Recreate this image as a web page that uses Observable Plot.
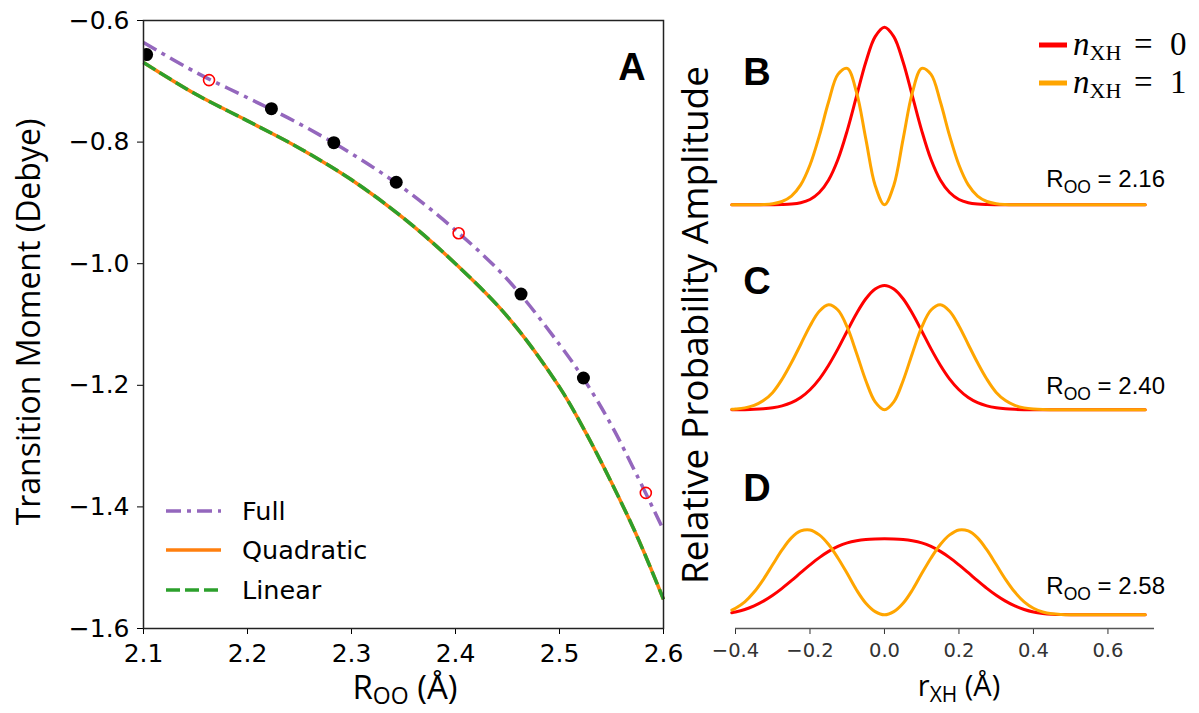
<!DOCTYPE html>
<html><head><meta charset="utf-8">
<script src="https://cdn.jsdelivr.net/npm/d3@7"></script>
<script src="https://cdn.jsdelivr.net/npm/@observablehq/plot@0.6"></script>
<style>
body{margin:0;background:#fff;}
#wrap{position:relative;width:1199px;height:713px;overflow:hidden;background:#fff;}
#left{position:absolute;left:0;top:0;width:700px;height:713px;}
#right{position:absolute;left:680px;top:0;width:519px;height:713px;}
#overlay{position:absolute;left:0;top:0;pointer-events:none;}
</style></head>
<body>
<div id="wrap"><div id="left"></div><div id="right"></div>
<svg id="overlay" width="1199" height="713"></svg></div>
<script>
// ---------- Panel A data ----------
const rooGrid = [2.10, 2.15, 2.20, 2.25, 2.30, 2.35, 2.40, 2.45, 2.50, 2.525, 2.55, 2.575, 2.60];
const fullTM  = [-0.636, -0.685, -0.727, -0.770, -0.819, -0.876, -0.945, -1.026, -1.133, -1.194, -1.266, -1.350, -1.438];
const quadTM  = [-0.669, -0.721, -0.765, -0.810, -0.862, -0.925, -1.000, -1.087, -1.203, -1.277, -1.360, -1.450, -1.552];
const linTM   = [-0.669, -0.721, -0.765, -0.810, -0.862, -0.925, -1.000, -1.087, -1.203, -1.277, -1.360, -1.450, -1.552];
const computedR  = [2.103, 2.223, 2.283, 2.343, 2.463, 2.523];
const computedTM = [-0.656, -0.745, -0.801, -0.866, -1.050, -1.188];
const predictedR  = [2.163, 2.403, 2.583];
const predictedTM = [-0.698, -0.950, -1.377];
const xTicksA = [2.1, 2.2, 2.3, 2.4, 2.5, 2.6];
const yTicksA = [-1.6, -1.4, -1.2, -1.0, -0.8, -0.6];
const seriesNamesA = ["Full", "Quadratic", "Linear"];

// ---------- Panels B-D data ----------
const panels = ["B", "C", "D"];
const panelROO = ["2.16", "2.40", "2.58"];
const rXH = [-0.41,-0.4,-0.375,-0.35,-0.325,-0.3,-0.275,-0.25,-0.225,-0.2,-0.175,-0.15,-0.125,-0.1,-0.075,-0.05,-0.025,0,
             0.025,0.05,0.075,0.1,0.125,0.15,0.175,0.2,0.225,0.25,0.275,0.3,0.325,0.35,0.375,0.4,0.425,0.45,0.475,0.5,0.7];
const groundB  = [0,0,0,0,0.0001,0.0004,0.0014,0.0043,0.012,0.030,0.069,0.140,0.255,0.418,0.612,0.804,0.947,1.0,
                  0.947,0.804,0.612,0.418,0.255,0.140,0.069,0.030,0.012,0.0043,0.0014,0.0004,0.0001,0,0,0,0,0,0,0,0];
const excitedB = [0,0,0.0001,0.0004,0.0019,0.0064,0.0188,0.049,0.112,0.224,0.388,0.580,0.734,0.768,0.633,0.370,0.109,0,
                  0.109,0.370,0.633,0.768,0.734,0.580,0.388,0.224,0.112,0.049,0.0188,0.0064,0.0019,0.0004,0.0001,0,0,0,0,0,0];
const groundC  = [0.0003,0.0005,0.0011,0.0026,0.0056,0.0115,0.022,0.040,0.069,0.113,0.173,0.251,0.343,0.444,0.542,0.625,0.680,0.700,
                  0.680,0.625,0.542,0.444,0.343,0.251,0.173,0.113,0.069,0.040,0.022,0.0115,0.0056,0.0026,0.0011,0.0005,0,0,0,0,0];
const excitedC = [0.003,0.0045,0.011,0.025,0.052,0.098,0.172,0.265,0.368,0.472,0.555,0.591,0.562,0.465,0.319,0.164,0.0445,0,
                  0.0445,0.164,0.319,0.465,0.562,0.591,0.555,0.472,0.368,0.265,0.172,0.098,0.052,0.025,0.011,0.0045,0.0015,0.0005,0,0,0];
const groundD  = [0.012,0.016,0.030,0.050,0.077,0.110,0.149,0.192,0.237,0.281,0.322,0.357,0.385,0.405,0.417,0.424,0.427,0.428,
                  0.427,0.424,0.417,0.405,0.385,0.357,0.322,0.281,0.237,0.192,0.149,0.110,0.077,0.050,0.030,0.016,0.008,0.0035,0.0015,0.0005,0];
const excitedD = [0.027,0.037,0.073,0.128,0.200,0.283,0.365,0.433,0.472,0.478,0.450,0.396,0.320,0.232,0.140,0.065,0.018,0,
                  0.018,0.065,0.140,0.232,0.320,0.396,0.450,0.478,0.472,0.433,0.365,0.283,0.200,0.128,0.073,0.037,0.016,0.006,0.002,0.0005,0];
const xTicksR = [-0.4, -0.2, 0.0, 0.2, 0.4, 0.6];

// colors
const cFull = "#9467bd", cQuad = "#ff7f0e", cLin = "#2ca02c";
const cN0 = "#ff0000", cN1 = "#ffa500";

// ---------- Build tables ----------
const toRows = (xs, ys) => xs.map((x, i) => ({x, y: ys[i]}));
const fullRows = toRows(rooGrid, fullTM);
const quadRows = toRows(rooGrid, quadTM);
const linRows = toRows(rooGrid, linTM);
const compRows = toRows(computedR, computedTM);
const predRows = toRows(predictedR, predictedTM);

const ground = {B: groundB, C: groundC, D: groundD};
const excited = {B: excitedB, C: excitedC, D: excitedD};
const waveRows = [];
for (const p of panels) {
  rXH.forEach((x, i) => waveRows.push({panel: p, state: "n0", x, amp: ground[p][i]}));
  rXH.forEach((x, i) => waveRows.push({panel: p, state: "n1", x, amp: excited[p][i]}));
}

const fmt1 = d3.format(".1f");

// ---------- Panel A ----------
const plotA = Plot.plot({
  width: 700, height: 713,
  marginLeft: 143, marginRight: 37, marginTop: 20, marginBottom: 85,
  style: {fontFamily: "DejaVu Sans", fontSize: "25px", color: "#000", background: "transparent"},
  x: {domain: [2.1, 2.6], ticks: xTicksA, tickFormat: fmt1, tickSize: 6, tickPadding: 10, label: null},
  y: {domain: [-1.6, -0.6], ticks: yTicksA, tickFormat: fmt1, tickSize: 6, tickPadding: 8, label: null},
  marks: [
    Plot.line(quadRows, {x: "x", y: "y", stroke: cQuad, strokeWidth: 3.5, curve: "catmull-rom", strokeLinecap: "butt"}),
    Plot.line(linRows, {x: "x", y: "y", stroke: cLin, strokeWidth: 3.5, curve: "catmull-rom", strokeDasharray: "14,5", strokeLinecap: "butt"}),
    Plot.line(fullRows, {x: "x", y: "y", stroke: cFull, strokeWidth: 3.5, curve: "catmull-rom", strokeDasharray: "15,6,4,6", strokeLinecap: "butt"}),
    Plot.dot(compRows, {x: "x", y: "y", r: 6.5, fill: "#000", stroke: "none", clip: true}),
    Plot.dot(predRows, {x: "x", y: "y", r: 5.5, fill: "none", stroke: "#ff0000", strokeWidth: 1.6}),
    Plot.frame({stroke: "#222", strokeWidth: 1.5})
  ]
});
document.getElementById("left").appendChild(plotA);

// ---------- Panels B-D ----------
const yR = [-0.077, 1.077];
const plotR = Plot.plot({
  width: 519, height: 713,
  marginLeft: 55, marginRight: 45, marginTop: 13, marginBottom: 85,
  style: {fontFamily: "DejaVu Sans", fontSize: "19.5px", color: "#333", background: "transparent", overflow: "visible"},
  fy: {domain: panels, axis: null, padding: 0},
  x: {domain: [-0.4, 0.725], ticks: xTicksR, tickFormat: fmt1, tickSize: 6, tickPadding: 9, label: null},
  y: {domain: yR, axis: null},
  marks: [
    Plot.line(waveRows.filter(d => d.state === "n0"), {x: "x", y: "amp", fy: "panel", stroke: cN0, strokeWidth: 3, curve: "catmull-rom"}),
    Plot.line(waveRows.filter(d => d.state === "n1"), {x: "x", y: "amp", fy: "panel", stroke: cN1, strokeWidth: 3, curve: "catmull-rom"}),
    Plot.ruleY([{panel: "D"}], {y: () => yR[0], fy: "panel", stroke: "#555", strokeWidth: 1.3})
  ]
});
document.getElementById("right").appendChild(plotR);

// ---------- Annotations / legends ----------
const ov = document.getElementById("overlay");
const letterY = {B: 85, C: 294, D: 501};
const rooY = {B: 187, C: 394, D: 594};
let s = "";
s += `<g font-family="Open Sans" fill="#000">
  <text transform="translate(40,322) rotate(-90)" text-anchor="middle" font-size="32">Transition Moment (Debye)</text>
  <text transform="translate(708,325) rotate(-90)" text-anchor="middle" font-size="37">Relative Probability Amplitude</text>
  <text x="405" y="699" text-anchor="middle" font-size="33">R<tspan dy="5" font-size="23">OO</tspan><tspan dy="-5"> (Å)</tspan></text>
  <text x="959" y="696" text-anchor="middle" font-size="29">r<tspan dy="6" font-size="21">XH</tspan><tspan dy="-6"> (Å)</tspan></text>
</g>`;
s += `<g font-family="Liberation Sans, Arial" font-weight="bold" font-size="38" text-anchor="middle" fill="#000">
  <text x="632" y="80">A</text>`;
panels.forEach(p => { s += `<text x="757" y="${letterY[p]}">${p}</text>`; });
s += `</g>`;
s += `<g font-family="Liberation Sans, Arial" font-size="24" text-anchor="end" fill="#000">`;
panels.forEach((p, i) => {
  s += `<text x="1165" y="${rooY[p]}">R<tspan dy="6" font-size="17.5">OO</tspan><tspan dy="-6"> = ${panelROO[i]}</tspan></text>`;
});
s += `</g>`;
// Panel A legend
const legA = [
  {name: seriesNamesA[0], color: cFull, dash: "15,6,4,6", y: 511},
  {name: seriesNamesA[1], color: cQuad, dash: "none", y: 550},
  {name: seriesNamesA[2], color: cLin, dash: "14,5", y: 590}
];
legA.forEach(l => {
  s += `<line x1="166" x2="221" y1="${l.y}" y2="${l.y}" stroke="${l.color}" stroke-width="3.5" stroke-dasharray="${l.dash}"/>`;
  s += `<text x="242" y="${l.y + 9}" font-family="DejaVu Sans" font-size="25.5" fill="#000">${l.name}</text>`;
});
// Right legend
const legR = [{v: "0", color: cN0, y: 45}, {v: "1", color: cN1, y: 83}];
legR.forEach(l => {
  s += `<line x1="1039" x2="1067" y1="${l.y}" y2="${l.y}" stroke="${l.color}" stroke-width="5"/>`;
  s += `<text y="${l.y + 10}" font-family="Liberation Serif, DejaVu Serif" font-size="33" fill="#000"><tspan x="1073" font-style="italic">n</tspan><tspan dy="5" font-size="22">XH</tspan><tspan dy="-5" x="1134">=</tspan><tspan x="1170">${l.v}</tspan></text>`;
});
ov.innerHTML = s;
</script>
</body></html>
